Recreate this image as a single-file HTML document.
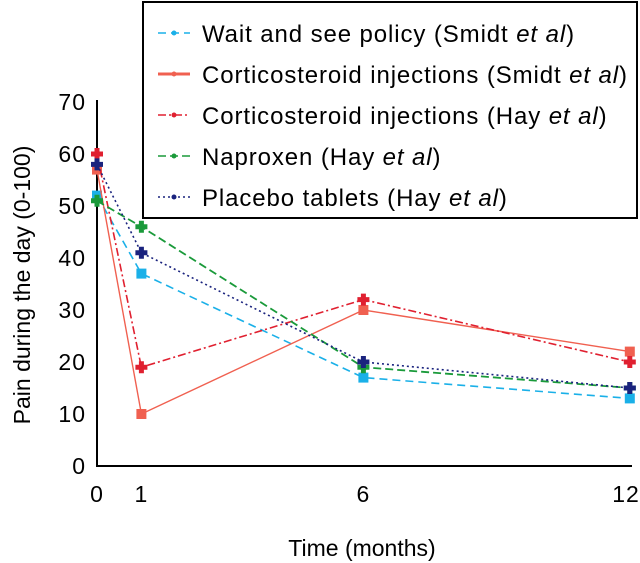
<!DOCTYPE html>
<html><head><meta charset="utf-8"><style>
body{margin:0;background:#fff}
svg{display:block;font-family:"Liberation Sans",sans-serif}
</style></head><body>
<svg id="chart" width="640" height="563"></svg>
<script>
const months=[0,1,6,12];
const yTicks=[0,10,20,30,40,50,60,70];
const seriesNames=["Wait and see policy (Smidt ","Corticosteroid injections (Smidt ","Corticosteroid injections (Hay ","Naproxen (Hay ","Placebo tablets (Hay "];
const waitSee=[52,37,17,13];
const cortSmidt=[57,10,30,22];
const cortHay=[60,19,32,20];
const naproxen=[51,46,19,15];
const placebo=[58,41,20,15];

const svg=document.getElementById('chart');
const NS='http://www.w3.org/2000/svg';
const X=m=>97+m*44.4;
const Y=v=>466-5.2*v;
function mk(tag,attrs,parent){const e=document.createElementNS(NS,tag);for(const k in attrs)e.setAttribute(k,attrs[k]);(parent||svg).appendChild(e);return e;}

const styles=[
 {c:'#1ab0e8',w:1.6,d:'8,5',m:'sq',key:'wait-see'},
 {c:'#f06050',w:1.4,d:'',m:'sq',key:'cort-smidt'},
 {c:'#e02030',w:1.6,d:'8,3,2,3',m:'plus',key:'cort-hay'},
 {c:'#1a9a3a',w:1.8,d:'8,4',m:'plus',key:'naproxen'},
 {c:'#1a237e',w:1.6,d:'2,3',m:'plus',key:'placebo'}];
const data=[waitSee,cortSmidt,cortHay,naproxen,placebo];

let a=mk('line',{x1:97,y1:100,x2:97,y2:467,stroke:'#000','stroke-width':2});

a=mk('line',{x1:96,y1:466,x2:632,y2:466,stroke:'#000','stroke-width':2});

yTicks.forEach(v=>{
 const t=mk('text',{x:86,y:Y(v)+8,'text-anchor':'end','font-size':23,'letter-spacing':1});
 t.textContent=v;
 
});
months.forEach(m=>{
 const t=mk('text',{x:Math.min(X(m),626),y:502,'text-anchor':'middle','font-size':23,'letter-spacing':1});
 t.textContent=m;
 
});
let t=mk('text',{x:362,y:556,'text-anchor':'middle','font-size':23});
t.textContent='Time (months)';

t=mk('text',{x:0,y:0,'text-anchor':'middle','font-size':23,transform:'translate(30,285) rotate(-90)'});
t.textContent='Pain during the day (0-100)';


function marker(type,x,y,c,g){
 if(type==='sq'){mk('rect',{x:x-5,y:y-5,width:10,height:10,fill:c},g);}
 else{mk('path',{d:`M${x-2.5},${y-6}h5v3.5h3.5v5h-3.5v3.5h-5v-3.5h-3.5v-5h3.5z`,fill:c},g);}
}
data.forEach((vals,i)=>{
 const s=styles[i];
 const g=mk('g',{});
 
 const l=mk('polyline',{points:vals.map((v,j)=>X(months[j])+','+Y(v)).join(' '),fill:'none',stroke:s.c,'stroke-width':s.w,'stroke-dasharray':s.d},g);
 
 vals.forEach((v,j)=>marker(s.m,X(months[j]),Y(v),s.c,g));
});

const lg=mk('g',{});

mk('rect',{x:143,y:2,width:494,height:216,fill:'#fff',stroke:'#000','stroke-width':2},lg);
seriesNames.forEach((n,i)=>{
 const s=styles[i];const y=33+i*41;
 const e=mk('g',{},lg);
 
 mk('line',{x1:158,y1:y,x2:190,y2:y,stroke:s.c,'stroke-width':i===1?3:1.6,'stroke-dasharray':s.d},e);
 mk('circle',{cx:174,cy:y,r:2.5,fill:s.c},e);
 const tx=mk('text',{x:202,y:y+9,'font-size':24,'letter-spacing':0.9},e);
 tx.textContent=n;
 const it=mk('tspan',{'font-style':'italic'},tx);it.textContent='et al';
 const cl=mk('tspan',{},tx);cl.textContent=')';
});
</script>
</body></html>
